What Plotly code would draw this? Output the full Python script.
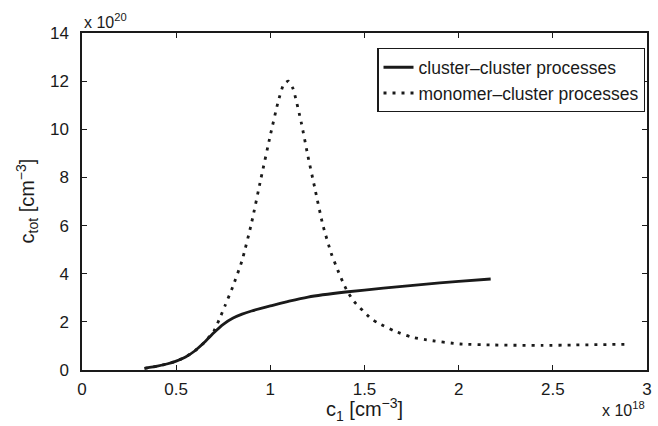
import plotly.graph_objects as go

# monomer concentration c1 in units of 1e18 cm^-3, total concentration in units of 1e20 cm^-3
c1_cluster = [0.332, 0.40, 0.45, 0.50, 0.55, 0.60, 0.65, 0.70, 0.75, 0.80,
              0.85, 0.90, 0.95, 1.0, 1.1, 1.2, 1.4, 1.6, 1.8, 2.0, 2.17]
ctot_cluster = [0.07, 0.16, 0.25, 0.37, 0.54, 0.80, 1.15, 1.55, 1.90, 2.15,
                2.32, 2.45, 2.56, 2.66, 2.86, 3.03, 3.24, 3.40, 3.55, 3.68, 3.78]

c1_monomer = [0.332, 0.40, 0.45, 0.50, 0.55, 0.60, 0.65, 0.70, 0.73, 0.76,
              0.80, 0.85, 0.90, 0.95, 1.0, 1.04, 1.07, 1.095, 1.12, 1.165,
              1.2, 1.235, 1.279, 1.323, 1.358, 1.384, 1.41, 1.445, 1.533, 1.568,
              1.656, 1.744, 1.83, 2.007, 2.18, 2.445, 2.62, 2.9]
ctot_monomer = [0.07, 0.16, 0.25, 0.37, 0.54, 0.80, 1.15, 1.62, 2.12, 2.68,
                3.45, 4.55, 6.10, 7.95, 9.75, 11.1, 11.85, 12.0, 11.7, 10.25,
                8.87, 7.6, 6.02, 4.85, 4.15, 3.67, 3.25, 2.84, 2.15, 1.97,
                1.63, 1.38, 1.25, 1.08, 1.04, 1.02, 1.04, 1.07]

x_ticks = [0, 0.5, 1, 1.5, 2, 2.5, 3]
y_ticks = [0, 2, 4, 6, 8, 10, 12, 14]

FONT = "Liberation Sans, Arial, sans-serif"
INK = "#1a1a1a"

fig = go.Figure()
fig.add_trace(go.Scatter(
    x=c1_cluster, y=ctot_cluster, mode="lines", name="cluster\u2013cluster processes",
    line=dict(color=INK, width=2.8, shape="spline", smoothing=0.5),
))
fig.add_trace(go.Scatter(
    x=c1_monomer, y=ctot_monomer, mode="lines", name="monomer\u2013cluster processes",
    line=dict(color=INK, width=2.8, dash="3px,6px", shape="spline", smoothing=0.5),
))

axis_common = dict(
    showline=True, linecolor=INK, linewidth=1.5, mirror="ticks",
    ticks="inside", ticklen=5, tickwidth=1, tickcolor=INK,
    showgrid=False, zeroline=False,
    tickfont=dict(family=FONT, size=17, color=INK),
)

fig.update_layout(
    width=658, height=426,
    margin=dict(l=82, r=6, t=33, b=56),
    paper_bgcolor="white", plot_bgcolor="white",
    font=dict(family=FONT, color=INK),
    xaxis=dict(
        range=[0, 3], tickvals=x_ticks, ticktext=[f"{v:g}" for v in x_ticks],
        ticklabelstandoff=3,
        **axis_common,
    ),
    yaxis=dict(
        range=[0, 14], tickvals=y_ticks, ticktext=[f"{v:g}" for v in y_ticks],
        ticklabelstandoff=8,
        **axis_common,
    ),
    legend=dict(
        x=0.997, y=0.955, xanchor="right", yanchor="top",
        bgcolor="white", bordercolor=INK, borderwidth=1.2,
        font=dict(family=FONT, size=17.5, color=INK),
        itemwidth=30, tracegroupgap=0,
    ),
    showlegend=True,
)

# axis titles
fig.add_annotation(
    text="c<sub>1</sub> [cm<sup>\u22123</sup>]", xref="paper", yref="paper",
    x=0.5, y=0, xanchor="center", yanchor="middle", yshift=-39, showarrow=False,
    font=dict(family=FONT, size=20, color=INK),
)
fig.add_annotation(
    text="c<sub>tot</sub> [cm<sup>\u22123</sup>]", xref="paper", yref="paper",
    x=0, y=0.5, xanchor="center", yanchor="middle", xshift=-55, showarrow=False,
    textangle=-90, font=dict(family=FONT, size=20, color=INK),
)

# axis multipliers
fig.add_annotation(
    text="x 10<sup>20</sup>", xref="paper", yref="paper", x=0, y=1,
    xanchor="left", yanchor="bottom", showarrow=False,
    font=dict(family=FONT, size=16, color=INK),
)
fig.add_annotation(
    text="x 10<sup>18</sup>", xref="paper", yref="paper", x=1, y=0,
    xanchor="right", yanchor="top", yshift=-27, showarrow=False,
    font=dict(family=FONT, size=16, color=INK),
)

fig.write_html("out.html")
